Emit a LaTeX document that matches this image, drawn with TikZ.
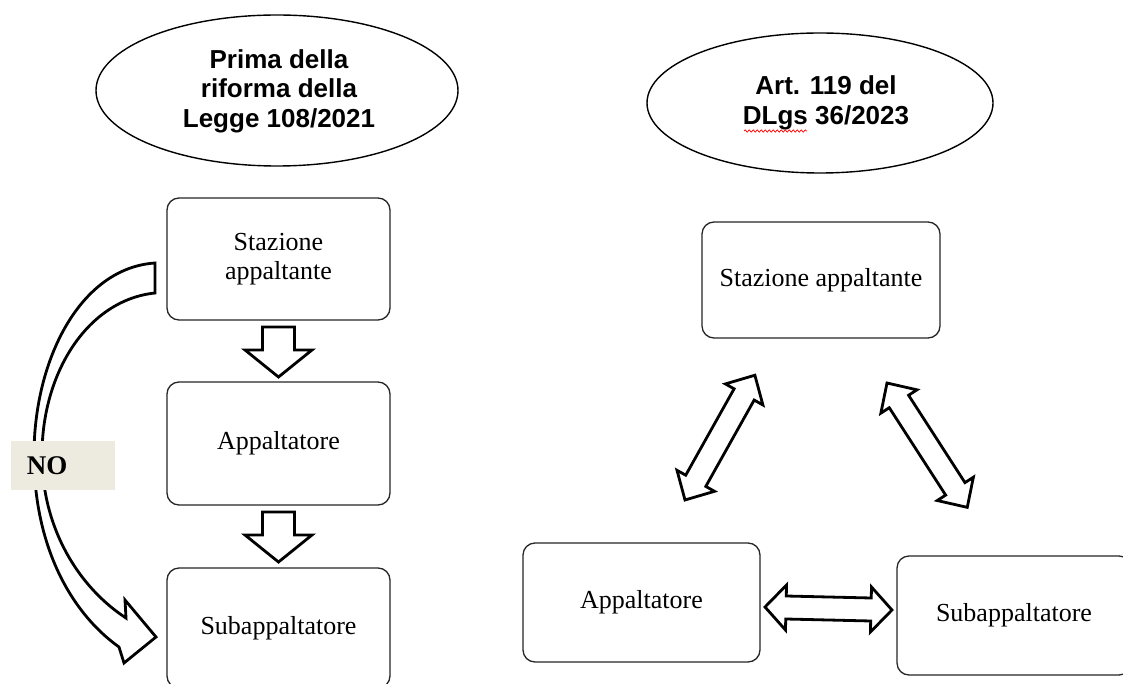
\documentclass[tikz,border=0pt]{standalone}
\usepackage{fontspec}
\setmainfont{Liberation Serif}
\newfontfamily\arialfont{Liberation Sans}
\usetikzlibrary{shapes.geometric,decorations.pathmorphing}
\definecolor{nobg}{HTML}{EDEBE0}
\tikzset{
  box/.style={draw=black!85, line width=1.3pt, rounded corners=12pt, inner sep=0pt,
    align=center, font=\fontsize{26}{29}\selectfont},
  ell/.style={draw=black, line width=1.4pt, ellipse, inner sep=0pt},
  elltext/.style={align=center, inner sep=0pt, font=\arialfont\bfseries\fontsize{26}{29.5}\selectfont},
  blkline/.style={draw=black, line width=2.8pt, line join=miter, fill=white},
  nolab/.style={fill=nobg, inner xsep=16pt, inner ysep=0pt, text width=72pt, align=left,
    minimum height=49pt, font=\bfseries\fontsize{27}{30}\selectfont},
  pics/dblblock/.style n args={4}{code={
    \draw[blkline] (0pt,0pt) -- (#4pt,#3pt) -- (#4pt,#2pt) -- ({(#1-#4)*1pt},#2pt)
      -- ({(#1-#4)*1pt},#3pt) -- ({#1*1pt},0pt) -- ({(#1-#4)*1pt},-#3pt)
      -- ({(#1-#4)*1pt},-#2pt) -- (#4pt,-#2pt) -- (#4pt,-#3pt) -- cycle;}},
  pics/sblock/.style n args={4}{code={
    \draw[blkline] (0pt,#2pt) -- ({(#1-#4)*1pt},#2pt) -- ({(#1-#4)*1pt},#3pt)
      -- ({#1*1pt},0pt) -- ({(#1-#4)*1pt},-#3pt) -- ({(#1-#4)*1pt},-#2pt)
      -- (0pt,-#2pt) -- cycle;}}
}
\begin{document}
\begin{tikzpicture}[x=1pt,y=-1pt]
\useasboundingbox[fill=white] (0,0) rectangle (1123,684);
\begin{scope}
\clip (0,0) rectangle (1123,684);

% ellipses
\node[ell, minimum width=362pt, minimum height=151pt] (e1) at (277,90.5) {};
\node[elltext] (e1t) at (279,91) {Prima della\\riforma della\\Legge 108/2021};
\node[ell, minimum width=346pt, minimum height=140pt] (e2) at (820,103) {};
\node[elltext] (e2t) at (826,103) {Art. 119 del\\DLgs 36/2023};
\draw[red, line width=0.7pt, decorate, decoration={snake, amplitude=1.1pt, segment length=4pt}]
  (744,131) -- (807,131);

% left column
\node[box, minimum width=223pt, minimum height=122pt] (ls) at (278.5,259) {Stazione\\appaltante};
\node[box, minimum width=223pt, minimum height=123pt] (la) at (278.5,443.5) {Appaltatore};
\node[box, minimum width=223pt, minimum height=120pt] (lsub) at (278.5,628) {Subappaltatore};

\pic[rotate=-90] (d1) at (278.5,327) {sblock={50}{16}{33.5}{27}};
\pic[rotate=-90] (d2) at (278.5,512) {sblock={50}{16}{33.5}{27}};

% curved NO arrow
\draw[blkline] (155,263) .. controls (80,268) and (34,360) .. (34,455)
  .. controls (34,545) and (70,612) .. (119,647) -- (124,663) -- (156,637) -- (125,600)
  -- (126,618) .. controls (80,588) and (42,530) .. (42,455)
  .. controls (42,372) and (88,300) .. (155,293) -- cycle;
\node[nolab] (no) at (63,465.5) {NO};

% right side
\node[box, minimum width=238pt, minimum height=116pt] (rs) at (821,280) {Stazione appaltante};
\node[box, minimum width=237pt, minimum height=119pt] (ra) at (641.5,602.5) {Appaltatore};
\node[box, minimum width=234pt, minimum height=119pt] (rsub) at (1014,615.5) {Subappaltatore};

\pic[rotate=60.75] (a1) at (685,500) {dblblock={143}{11.5}{21.5}{22}};
\pic[rotate=-57.17] (a2) at (887,383) {dblblock={148}{11.5}{21.5}{22}};
\pic[rotate=-1.35] (a3) at (765,607) {dblblock={127}{11.5}{22.5}{21}};
\end{scope}
\end{tikzpicture}
\end{document}
